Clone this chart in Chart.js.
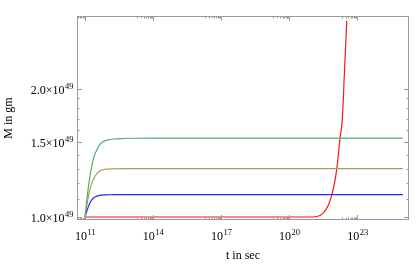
<!DOCTYPE html>
<html>
<head>
<meta charset="utf-8">
<script src="https://cdn.jsdelivr.net/npm/chart.js@4.4.1/dist/chart.umd.min.js"></script>
<style>
  html, body { margin: 0; padding: 0; background: #fff; }
  #wrap { width: 417px; height: 266px; position: relative; }
</style>
</head>
<body>
<div id="wrap"><canvas id="massChart"></canvas></div>
<script>
// time samples as powers of ten (t = 10^exp seconds)
const riseExp = [11, 11.1, 11.2, 11.3, 11.4, 11.5, 11.65, 11.8, 12.0, 12.3, 12.7, 13.2, 14, 25];
const greenM = [1.0, 1.12, 1.23, 1.32, 1.39, 1.43, 1.48, 1.505, 1.518, 1.526, 1.53, 1.532, 1.533, 1.533];
const oliveM = [1.0, 1.08, 1.15, 1.2, 1.237, 1.26, 1.283, 1.292, 1.296, 1.298, 1.299, 1.299, 1.299, 1.299];
const blueM = [1.0, 1.04, 1.075, 1.097, 1.111, 1.118, 1.124, 1.127, 1.128, 1.129, 1.129, 1.129, 1.129, 1.129];

const redExp = [11, 20, 20.77, 21.21, 21.5, 21.72, 21.88, 22.0, 22.09, 22.17, 22.23, 22.33, 22.43, 22.53];
const redM = [1.0, 1.0, 1.0, 1.003, 1.023, 1.067, 1.132, 1.21, 1.30, 1.42, 1.53, 1.69, 2.21, 2.9];

const UNIT = 1e49;

const xMajorExp = [11, 14, 17, 20, 23];
const yMajor = [1.0, 1.5, 2.0];
const yMinor = [1.1, 1.2, 1.3, 1.4, 1.6, 1.7, 1.8, 1.9];

function toPoints(exps, vals) {
    return exps.map((e, i) => ({ x: Math.pow(10, e), y: vals[i] * UNIT }));
}

const FONT = '"Liberation Serif", "DejaVu Serif", serif';
const FRAME = "#9a9a9a";

function supLabel(ctx, base, sup, x, y, align) {
    ctx.font = "12px " + FONT;
    const wb = ctx.measureText(base).width;
    ctx.font = "8.5px " + FONT;
    const ws = ctx.measureText(sup).width;
    let left = x;
    if (align === "right") left = x - wb - ws;
    else if (align === "center") left = x - (wb + ws) / 2;
    ctx.textAlign = "left";
    ctx.textBaseline = "alphabetic";
    ctx.font = "12px " + FONT;
    ctx.fillText(base, left, y);
    ctx.font = "8.5px " + FONT;
    ctx.fillText(sup, left + wb + 0.5, y - 5);
}

const framePlugin = {
    id: "framePlugin",
    afterDraw(chart) {
        const ctx = chart.ctx;
        const a = chart.chartArea;
        const xs = chart.scales.x;
        const ys = chart.scales.y;
        ctx.save();
        ctx.strokeStyle = FRAME;
        ctx.lineWidth = 1;
        ctx.strokeRect(a.left + 0.5, a.top + 0.5, a.right - a.left - 1, a.bottom - a.top - 1);

        function xTick(v, len) {
            const px = Math.round(xs.getPixelForValue(v)) + 0.5;
            if (px < a.left || px > a.right) return;
            ctx.beginPath();
            ctx.moveTo(px, a.bottom);
            ctx.lineTo(px, a.bottom - len);
            ctx.moveTo(px, a.top);
            ctx.lineTo(px, a.top + len);
            ctx.stroke();
        }
        function yTick(v, len) {
            const py = Math.round(ys.getPixelForValue(v)) + 0.5;
            ctx.beginPath();
            ctx.moveTo(a.left, py);
            ctx.lineTo(a.left + len, py);
            ctx.moveTo(a.right, py);
            ctx.lineTo(a.right - len, py);
            ctx.stroke();
        }

        xMajorExp.forEach(e => {
            xTick(Math.pow(10, e), 5);
            for (let k = 2; k <= 9; k++) xTick(k * Math.pow(10, e - 1), 2.5);
        });
        yMajor.forEach(v => yTick(v * UNIT, 5));
        yMinor.forEach(v => yTick(v * UNIT, 2.5));

        ctx.fillStyle = "#000";
        xMajorExp.forEach(e => {
            const px = xs.getPixelForValue(Math.pow(10, e));
            supLabel(ctx, "10", String(e), px, 240, "center");
        });
        yMajor.forEach(v => {
            const py = ys.getPixelForValue(v * UNIT);
            supLabel(ctx, v.toFixed(1) + "\u00d710", "49", 73, py + 5, "right");
        });

        ctx.font = "12px " + FONT;
        ctx.textAlign = "center";
        ctx.textBaseline = "alphabetic";
        ctx.fillText("t in sec", (a.left + a.right) / 2, 259);
        ctx.translate(12, (a.top + a.bottom) / 2);
        ctx.rotate(-Math.PI / 2);
        ctx.fillText("M in gm", 0, 0);
        ctx.restore();
    }
};

function series(label, pts, color) {
    return {
        label: label,
        data: pts,
        borderColor: color,
        borderWidth: 1.2,
        pointRadius: 0,
        fill: false,
        cubicInterpolationMode: "monotone"
    };
}

new Chart(document.getElementById("massChart"), {
    type: "line",
    data: {
        datasets: [
            series("green", toPoints(riseExp, greenM), "rgb(90,170,110)"),
            series("olive", toPoints(riseExp, oliveM), "rgb(175,155,85)"),
            series("blue", toPoints(riseExp, blueM), "rgb(40,40,255)"),
            series("red", toPoints(redExp, redM), "rgb(255,20,20)")
        ]
    },
    options: {
        responsive: true,
        maintainAspectRatio: false,
        animation: false,
        layout: { padding: { left: 77, right: 8, top: 16, bottom: 46 } },
        plugins: { legend: { display: false }, tooltip: { enabled: false } },
        scales: {
            x: {
                type: "logarithmic",
                display: false,
                min: Math.pow(10, 10.648),
                max: Math.pow(10, 25.27)
            },
            y: {
                type: "logarithmic",
                display: false,
                min: 0.984 * UNIT,
                max: 2.97 * UNIT
            }
        }
    },
    plugins: [framePlugin]
});
</script>
</body>
</html>
